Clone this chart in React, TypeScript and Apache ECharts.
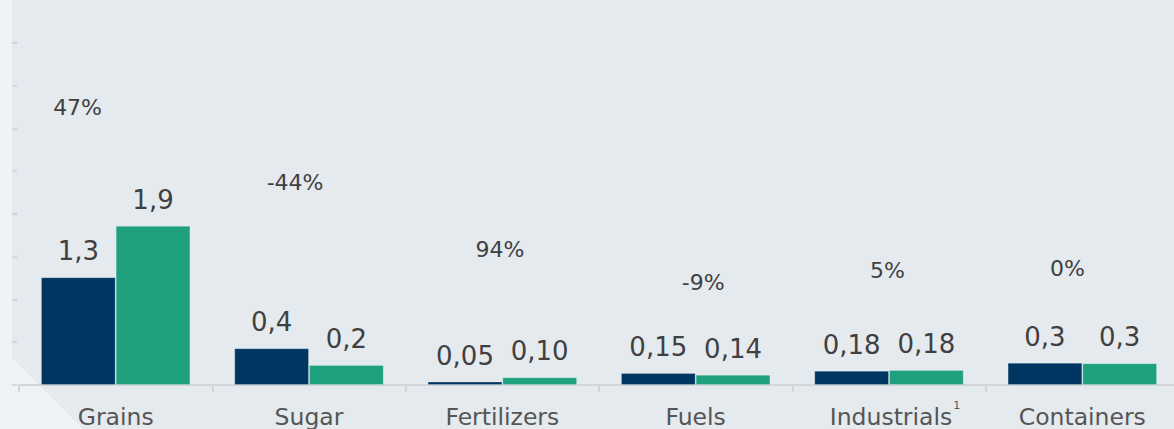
import React, { useEffect, useRef } from "react";
import * as echarts from "echarts";

const categories = ["Grains", "Sugar", "Fertilizers", "Fuels", "Industrials", "Containers"];
const seriesA = [1.26, 0.43, 0.04, 0.14, 0.167, 0.26];
const seriesB = [1.86, 0.235, 0.09, 0.12, 0.175, 0.255];
const labelsA = ["1,3", "0,4", "0,05", "0,15", "0,18", "0,3"];
const labelsB = ["1,9", "0,2", "0,10", "0,14", "0,18", "0,3"];
const changeLabels = ["47%", "-44%", "94%", "-9%", "5%", "0%"];
// anchor of each change label, in axis units (x: 0..6 across categories, y: value axis)
const changeX = [0.303, 1.428, 2.488, 3.539, 4.492, 5.423];
const changeY = [3.24, 2.365, 1.587, 1.198, 1.338, 1.358];
const footnoteCategory = "Industrials";

const FONT = "DejaVu Sans";

export default function App() {
  const ref = useRef<HTMLDivElement>(null);
  useEffect(() => {
    if (!ref.current) return;
    const chart = echarts.init(ref.current, null, { renderer: "svg" });
    chart.setOption({
      animation: false,
      backgroundColor: "#e5eaee",
      textStyle: { fontFamily: FONT },
      graphic: [
        {
          type: "polygon",
          z: -10,
          silent: true,
          shape: {
            points: [
              [0, 0],
              [12, 0],
              [12, 358],
              [83, 429],
              [0, 429],
            ],
          },
          style: { fill: "#eff3f5" },
        },
      ],
      grid: { left: 19, top: 0, width: 1160, height: 385, containLabel: false, outerBoundsMode: "none" },
      xAxis: [
        {
          type: "category",
          data: categories,
          axisLine: { show: true, lineStyle: { color: "#d2d6da", width: 2 } },
          axisTick: { show: true, length: 7, lineStyle: { color: "#d2d6da", width: 2 } },
          axisLabel: {
            interval: 0,
            margin: 15,
            fontSize: 23.5,
            color: "#555555",
            fontFamily: FONT,
            formatter: (v: string) => (v === footnoteCategory ? `{mainI|${v}}{sup|1}` : `{main|${v}}`),
            rich: {
              main: {
                fontSize: 23.5,
                lineHeight: 23.5,
                color: "#555555",
                verticalAlign: "top",
                padding: [5, 0, 0, 0],
                fontFamily: FONT,
              },
              mainI: {
                fontSize: 23.5,
                lineHeight: 23.5,
                color: "#555555",
                verticalAlign: "top",
                padding: [5, 0, 0, 12],
                fontFamily: FONT,
              },
              sup: {
                fontSize: 11,
                lineHeight: 11,
                verticalAlign: "top",
                color: "#555555",
                padding: [0, 0, 0, 1],
                fontFamily: FONT,
              },
            },
          },
        },
        {
          type: "value",
          min: 0,
          max: 6,
          show: false,
        },
      ],
      yAxis: {
        type: "value",
        min: 0,
        max: 4.5,
        interval: 0.5,
        axisLine: { show: false },
        axisTick: { show: false },
        splitLine: { show: false },
        axisLabel: {
          fontSize: 3,
          color: "#9aa0a6",
          margin: 2,
          showMaxLabel: false,
          formatter: (v: number) => v.toFixed(1).replace(".", ","),
        },
      },
      series: [
        {
          type: "bar",
          data: seriesA,
          barGap: 0,
          barCategoryGap: "22.7%",
          itemStyle: { color: "#003662", borderColor: "rgba(255,255,255,0.22)", borderWidth: 1 },
          label: {
            show: true,
            position: "top",
            distance: 13,
            fontSize: 26,
            color: "#404040",
            fontFamily: FONT,
            formatter: (p: any) => labelsA[p.dataIndex],
          },
        },
        {
          type: "bar",
          data: seriesB,
          barGap: 0,
          barCategoryGap: "22.7%",
          itemStyle: { color: "#1fa07f", borderColor: "rgba(255,255,255,0.22)", borderWidth: 1 },
          label: {
            show: true,
            position: "top",
            distance: 13,
            fontSize: 26,
            color: "#404040",
            fontFamily: FONT,
            formatter: (p: any) => labelsB[p.dataIndex],
          },
        },
        {
          type: "scatter",
          xAxisIndex: 1,
          data: changeX.map((x, i) => [x, changeY[i]]),
          symbolSize: 0,
          itemStyle: { color: "transparent", opacity: 1 },
          label: {
            show: true,
            position: "inside",
            fontSize: 22,
            color: "#404040",
            opacity: 1,
            fontFamily: FONT,
            formatter: (p: any) => changeLabels[p.dataIndex],
          },
        },
      ],
    });
    return () => chart.dispose();
  }, []);
  return (
    <div
      ref={ref}
      style={{ position: "fixed", left: 0, top: 0, width: 1174, height: 429 }}
    />
  );
}
